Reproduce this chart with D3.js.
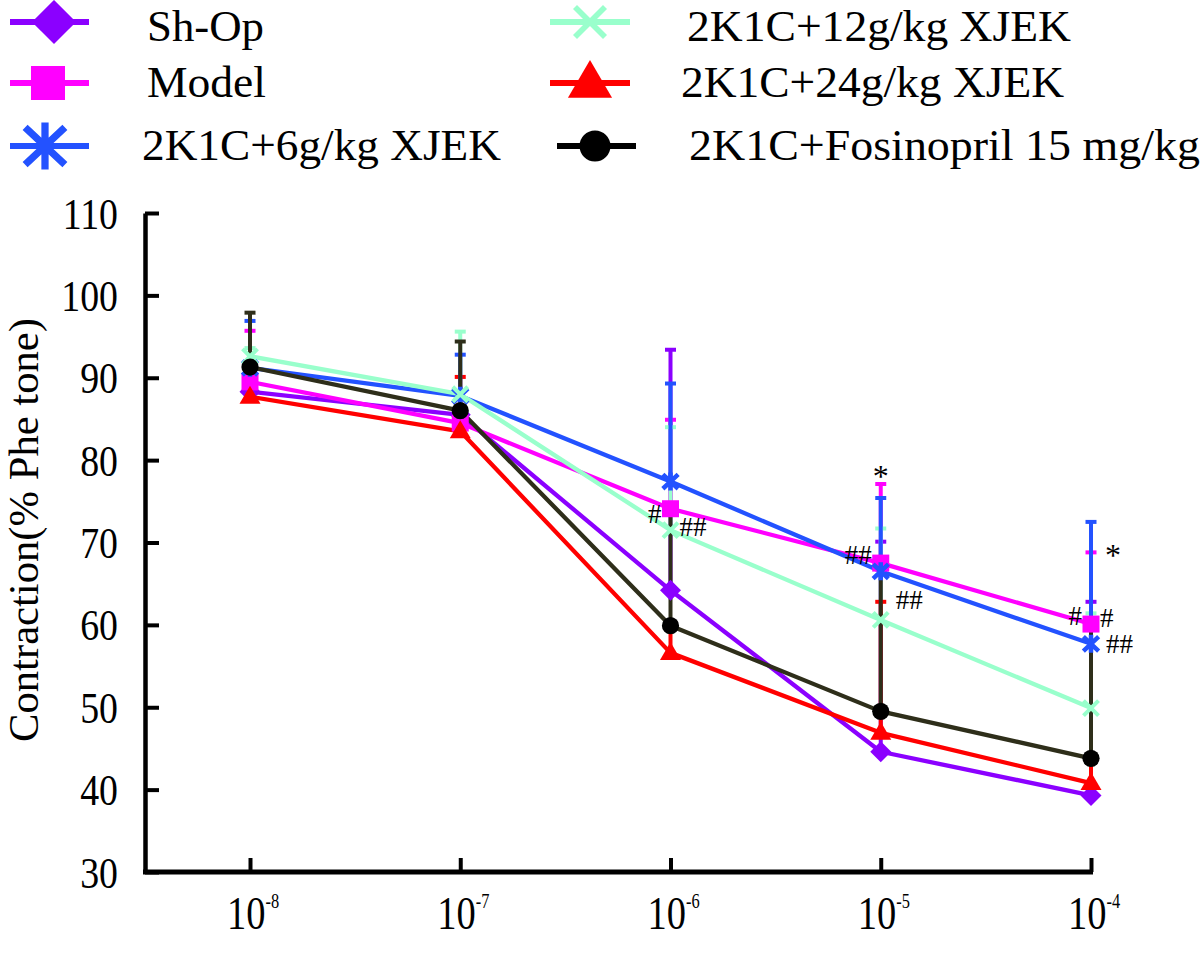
<!DOCTYPE html>
<html>
<head>
<meta charset="utf-8">
<script src="https://cdn.jsdelivr.net/npm/d3@7"></script>
<style>
  html, body { margin: 0; padding: 0; background: #ffffff; }
  svg { display: block; }
</style>
</head>
<body>
<svg id="chart" width="1200" height="978"></svg>
<script>
// ---------------- DATA ----------------
const concentrations = [1e-8, 1e-7, 1e-6, 1e-5, 1e-4];
const xTickExponents = ["-8", "-7", "-6", "-5", "-4"];
const yTickValues = [30, 40, 50, 60, 70, 80, 90, 100, 110];
const yAxisTitle = "Contraction(% Phe tone)";

const seriesNames = [
  "Sh-Op",
  "Model",
  "2K1C+6g/kg XJEK",
  "2K1C+12g/kg XJEK",
  "2K1C+24g/kg XJEK",
  "2K1C+Fosinopril 15 mg/kg"
];

const shOpMean   = [88.3, 85.5, 64.2, 44.6, 39.3];
const shOpErr    = [1.0, 1.0, 29.2, 25.5, 23.5];
const modelMean  = [89.5, 84.5, 74.1, 67.5, 60.1];
const modelErr   = [6.2, 1.0, 10.8, 9.6, 8.7];
const xjek6Mean  = [91.2, 87.8, 77.4, 66.5, 57.7];
const xjek6Err   = [5.7, 5.0, 11.9, 8.9, 14.8];
const xjek12Mean = [92.6, 88.0, 71.5, 60.6, 49.9];
const xjek12Err  = [1.0, 7.6, 12.5, 11.1, 11.5];
const xjek24Mean = [87.7, 83.5, 56.6, 46.9, 40.8];
const xjek24Err  = [1.0, 6.6, 3.0, 15.9, 3.0];
const fosMean    = [91.3, 86.0, 59.9, 49.5, 43.8];
const fosErr     = [6.6, 8.4, 14.0, 17.3, 16.2];

// significance marks: [concentration index, value, text]
const annotationIndex = [2, 2, 3, 3, 3, 4, 4, 4, 4];
const annotationValue = [73.5, 71.9, 78.4, 68.5, 63.0, 68.8, 61.1, 60.8, 57.7];
const annotationText  = ["#", "##", "*", "##", "##", "*", "#", "#", "##"];
const annotationSide  = ["left", "right", "center", "left", "right", "right", "left", "right", "right"];

// ---------------- STYLE ----------------
const styles = [
  { line: "#8B00FF", marker: "#8B00FF", shape: "diamond" },
  { line: "#FF00FF", marker: "#FF00FF", shape: "square" },
  { line: "#2352FF", marker: "#2352FF", shape: "asterisk" },
  { line: "#99FFCC", marker: "#99FFCC", shape: "x" },
  { line: "#FF0000", marker: "#FF0000", shape: "triangle" },
  { line: "#2E2E1A", marker: "#000000", shape: "circle" }
];
const means = [shOpMean, modelMean, xjek6Mean, xjek12Mean, xjek24Mean, fosMean];
const errs  = [shOpErr, modelErr, xjek6Err, xjek12Err, xjek24Err, fosErr];
const series = seriesNames.map((name, i) => ({
  name, mean: means[i], err: errs[i], style: styles[i]
}));
const errorDrawOrder = [0, 1, 3, 4, 2, 5];

const FONT = "'Liberation Serif', 'Times New Roman', Times, serif";
const svg = d3.select("#chart");

const axisX0 = 145;
const x = d3.scaleLog().domain([1e-8, 1e-4]).range([250, 1091]);
const y = d3.scaleLinear().domain([30, 110]).range([872, 213]);

// ---------------- MARKERS ----------------
function drawMarker(g, shape, cx, cy, k, color) {
  const m = g.append("g").attr("transform", `translate(${cx},${cy})`);
  if (shape === "diamond") {
    m.append("path").attr("d", `M0,${-10.5*k}L${10.5*k},0L0,${10.5*k}L${-10.5*k},0Z`).attr("fill", color);
  } else if (shape === "square") {
    m.append("rect").attr("x", -8.5*k).attr("y", -8.5*k).attr("width", 17*k).attr("height", 17*k).attr("fill", color);
  } else if (shape === "asterisk") {
    const r = 9*k;
    m.append("path")
      .attr("d", `M0,${-r}L0,${r}M${-r*0.85},${-r*0.8}L${r*0.85},${r*0.8}M${-r*0.85},${r*0.8}L${r*0.85},${-r*0.8}`)
      .attr("stroke", color).attr("stroke-width", 4.5*Math.sqrt(k)).attr("fill", "none");
  } else if (shape === "x") {
    const r = 7.5*k;
    m.append("path")
      .attr("d", `M${-r},${-r}L${r},${r}M${-r},${r}L${r},${-r}`)
      .attr("stroke", color).attr("stroke-width", 4*Math.sqrt(k)).attr("fill", "none");
  } else if (shape === "triangle") {
    m.append("path").attr("d", `M0,${-11*k}L${10.5*k},${7*k}L${-10.5*k},${7*k}Z`).attr("fill", color);
  } else if (shape === "circle") {
    m.append("circle").attr("r", 8.6*k).attr("fill", color);
  }
}

// ---------------- AXES ----------------
const yAxisG = svg.append("g").attr("transform", `translate(${axisX0},0)`)
  .call(d3.axisLeft(y).tickValues(yTickValues).tickSize(-14).tickSizeOuter(0).tickPadding(0));
yAxisG.select(".domain").attr("stroke", "#000").attr("stroke-width", 4.5);
yAxisG.selectAll(".tick line").attr("stroke", "#000").attr("stroke-width", 4);
yAxisG.selectAll(".tick text")
  .attr("x", 0).attr("dy", null)
  .attr("transform", `translate(${118 - axisX0},15) scale(0.86,1)`)
  .attr("text-anchor", "end")
  .attr("font-family", FONT).attr("font-size", 44).attr("fill", "#000");

const xAxisG = svg.append("g").attr("transform", `translate(0,${y(30)})`)
  .call(d3.axisBottom(x).tickValues(concentrations).tickSize(-14).tickSizeOuter(0).tickFormat(""));
xAxisG.select(".domain").remove();
xAxisG.selectAll(".tick line").attr("stroke", "#000").attr("stroke-width", 4);
xAxisG.append("line")
  .attr("x1", axisX0 - 2).attr("x2", x(1e-4) + 2)
  .attr("y1", 0).attr("y2", 0)
  .attr("stroke", "#000").attr("stroke-width", 5);

concentrations.forEach((c, i) => {
  const t = svg.append("text")
    .attr("transform", `translate(${x(c) + 3},929) scale(0.82,1)`)
    .attr("text-anchor", "middle")
    .attr("font-family", FONT).attr("fill", "#000");
  t.append("tspan").attr("font-size", 47).text("10");
  t.append("tspan").attr("font-size", 20).attr("dy", -21).text(xTickExponents[i]);
});

svg.append("text")
  .attr("transform", `translate(38,530) rotate(-90)`)
  .attr("text-anchor", "middle")
  .attr("font-family", FONT).attr("font-size", 42)
  .attr("textLength", 424).attr("lengthAdjust", "spacingAndGlyphs")
  .attr("fill", "#000")
  .text(yAxisTitle);

// ---------------- ERROR BARS ----------------
const plot = svg.append("g");
errorDrawOrder.forEach(si => {
  const s = series[si];
  const g = plot.append("g");
  concentrations.forEach((c, i) => {
    const top = s.mean[i] + s.err[i];
    g.append("line")
      .attr("x1", x(c)).attr("x2", x(c))
      .attr("y1", y(s.mean[i])).attr("y2", y(top))
      .attr("stroke", s.style.line).attr("stroke-width", 4);
    g.append("line")
      .attr("x1", x(c) - 5.5).attr("x2", x(c) + 5.5)
      .attr("y1", y(top)).attr("y2", y(top))
      .attr("stroke", s.style.line).attr("stroke-width", 4);
  });
});

// ---------------- LINES ----------------
const lineGen = d3.line().x((d, i) => x(concentrations[i])).y(d => y(d));
series.forEach(s => {
  plot.append("path")
    .attr("d", lineGen(s.mean))
    .attr("fill", "none")
    .attr("stroke", s.style.line)
    .attr("stroke-width", 4.3)
    .attr("stroke-linejoin", "round");
});

// ---------------- MARKERS ----------------
series.forEach(s => {
  const g = plot.append("g");
  s.mean.forEach((v, i) => drawMarker(g, s.style.shape, x(concentrations[i]), y(v), 1, s.style.marker));
});

// ---------------- ANNOTATIONS ----------------
annotationText.forEach((txt, i) => {
  const cx = x(concentrations[annotationIndex[i]]);
  const side = annotationSide[i];
  const dx = side === "left" ? -9 : side === "right" ? 9 : 0;
  const anchor = side === "left" ? "end" : side === "right" ? "start" : "middle";
  const extra = (i === 4 || i === 8) ? 6 : (i === 5 ? 5 : 0);
  svg.append("text")
    .attr("x", cx + dx + (side === "right" ? extra : 0))
    .attr("y", y(annotationValue[i]) + (txt === "*" ? 14 : 9))
    .attr("text-anchor", anchor)
    .attr("font-family", FONT)
    .attr("font-size", txt === "*" ? 32 : 27)
    .attr("fill", "#000")
    .text(txt);
});

// ---------------- LEGEND ----------------
const legendRows = [22, 83, 146];
const legendCols = [
  { x1: 10, x2: 89, mk: [54, 48, 45], tx: [147, 147, 142], tw: [117, 119, 359] },
  { x1: 550, x2: 630, mk: [590, 590, 595], tx: [687, 681, 689], tw: [384, 383, 511] }
];
const legendScale = [2.1, 2.0, 2.6, 2.0, 2.1, 1.8];
series.forEach((s, i) => {
  const col = legendCols[Math.floor(i / 3)];
  const r = i % 3;
  const cy = legendRows[r];
  const g = svg.append("g");
  const lx1 = col.x1 + (i === 5 ? 7 : 0);
  const lx2 = col.x2 + (i === 5 ? 6 : 0);
  g.append("line").attr("x1", lx1).attr("x2", lx2).attr("y1", cy).attr("y2", cy)
    .attr("stroke", i === 5 ? "#000" : s.style.line).attr("stroke-width", 6);
  drawMarker(g, s.style.shape, col.mk[r], cy, legendScale[i], s.style.marker);
  g.append("text")
    .attr("x", col.tx[r]).attr("y", Math.max(cy + 14, 41))
    .attr("font-family", FONT).attr("font-size", 44)
    .attr("textLength", col.tw[r]).attr("lengthAdjust", "spacingAndGlyphs")
    .attr("fill", "#000")
    .text(s.name);
});
</script>
</body>
</html>
